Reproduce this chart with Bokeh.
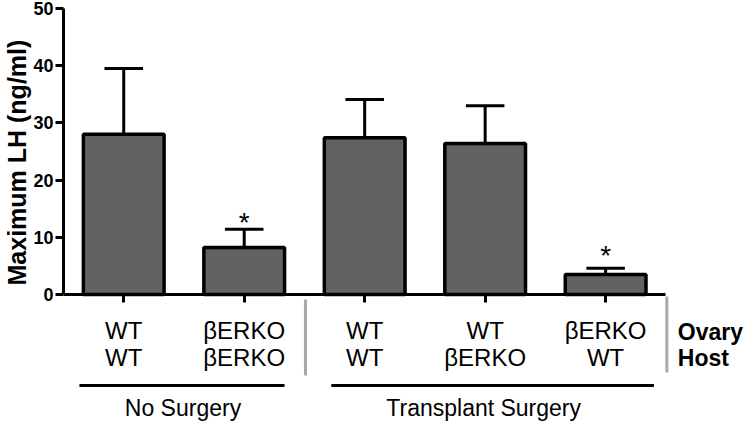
import numpy as np
from bokeh.plotting import figure
from bokeh.models import Range1d, FixedTicker, ColumnDataSource, Title
from bokeh.core.properties import value
from bokeh.embed import file_html
from bokeh.resources import INLINE

# ---------------- data ----------------
ovary = ["WT", "\u03b2ERKO", "WT", "WT", "\u03b2ERKO"]
host = ["WT", "\u03b2ERKO", "WT", "\u03b2ERKO", "WT"]
row_names = ["Ovary", "Host"]
groups = ["No Surgery", "Transplant Surgery"]
mean_lh = [28.0, 8.2, 27.4, 26.4, 3.5]
sem_lh = [11.5, 3.2, 6.7, 6.6, 1.1]
star_text = ["", "*", "", "", "*"]
star_y = [0.0, 13.5, 0.0, 0.0, 7.7]
y_ticks = [0, 10, 20, 30, 40, 50]
y_title = "Maximum LH (ng/ml)"

# ---------------- layout constants (pixels; canvas == page here) ----------------
FONT = value("Liberation Sans")
W, H = 747, 421
BL, BT = 60, 8
AXIS_X_PAGE, XEND_PAGE = 60, 665
Y0_PAGE, Y50_PAGE = 294, 8
UPX = (XEND_PAGE - AXIS_X_PAGE) / 5.0        # px per category
UPY = (Y0_PAGE - Y50_PAGE) / 50.0            # px per ng/ml


def dy(page_y):
    """pixel row -> data y"""
    return (Y0_PAGE - page_y) / UPY


def dx(page_x):
    """pixel column -> data x"""
    return -0.5 + (page_x - AXIS_X_PAGE) / UPX


x_end = 4.5 + (W - XEND_PAGE) / UPX
y_start = dy(H)

xs = np.arange(len(mean_lh), dtype=float)
tops = [m + s for m, s in zip(mean_lh, sem_lh)]

src = ColumnDataSource(dict(x=xs, mean=mean_lh, top=tops,
                            cap0=xs - 0.16, cap1=xs + 0.16,
                            star=star_text, star_y=star_y,
                            ovary=ovary, host=host))

p = figure(width=W, height=H, x_range=Range1d(-0.5, x_end), y_range=Range1d(y_start, 50),
           output_backend="svg", toolbar_location=None, x_axis_location="above",
           min_border_left=BL, min_border_right=0, min_border_top=BT, min_border_bottom=0)
p.grid.visible = False
p.outline_line_color = None
p.background_fill_color = None
p.border_fill_color = None

# error bars (upper only)
p.segment(x0="x", y0="mean", x1="x", y1="top", source=src, line_color="black", line_width=3)
p.segment(x0="cap0", y0="top", x1="cap1", y1="top", source=src, line_color="black", line_width=3)
# bars
p.vbar(x="x", top="mean", bottom=0, width=0.67, source=src,
       fill_color="#626262", line_color="black", line_width=3.5)
# significance stars
p.text(x="x", y="star_y", text="star", source=src, text_font=FONT, text_font_size="28px",
       text_align="center", text_baseline="middle", y_offset=5, text_color="black")

# y axis
ya = p.yaxis[0]
ya.ticker = FixedTicker(ticks=y_ticks)
ya.bounds = (0, 50)
ya.axis_line_width = 3
ya.major_tick_line_width = 3
ya.major_tick_out = 8
ya.major_tick_in = 0
ya.minor_tick_out = 0
ya.minor_tick_in = 0
ya.major_label_text_font = "Liberation Sans"
ya.major_label_text_font_size = "18px"
ya.major_label_text_font_style = "bold"
ya.major_label_text_color = "black"
ya.major_label_standoff = 2

# y title: starts (bottom end) at pixel row 285, i.e. offset from the frame bottom
p.add_layout(Title(text=y_title, align="left", offset=H - 285, standoff=0,
                   text_font="Liberation Sans", text_font_size="25px", text_font_style="bold",
                   text_color="black"), "left")

# x axis, pinned at y = 0, ticks pointing down
xa = p.xaxis[0]
xa.fixed_location = 0
xa.bounds = (-0.5, 4.5)
xa.ticker = FixedTicker(ticks=list(xs))
xa.axis_line_width = 3
xa.major_tick_line_width = 3
xa.major_tick_out = 0
xa.major_tick_in = 8
xa.minor_tick_out = 0
xa.minor_tick_in = 0
xa.major_label_overrides = {i: "" for i in range(5)}
xa.major_label_standoff = 0

# ---------------- category labels below ----------------
p.text(x="x", y=dy(330), text="ovary", source=src, text_font=FONT, text_font_size="24px",
       text_align="center", text_baseline="middle", text_color="black")
p.text(x="x", y=dy(357), text="host", source=src, text_font=FONT, text_font_size="24px",
       text_align="center", text_baseline="middle", text_color="black")
p.text(x=[dx(677)] * 2, y=[dy(331), dy(357)], text=row_names, text_font=FONT,
       text_font_size="23px", text_font_style="bold", text_align="left",
       text_baseline="middle", text_color="black")

# group underlines and labels
line_y = dy(385)
p.segment(x0=[dx(76), dx(329)], y0=[line_y] * 2, x1=[dx(282), dx(653)], y1=[line_y] * 2,
          line_color="black", line_width=3)
p.text(x=[dx(180), dx(482)], y=[dy(407)] * 2, text=groups, text_font=FONT,
       text_font_size="23px", text_align="center", text_baseline="middle", text_color="black")
# grey separators
p.segment(x0=[dx(303), dx(666)], y0=[dy(299), dy(296)], x1=[dx(303), dx(666)],
          y1=[dy(375), dy(372)], line_color="#a8a8a8", line_width=3)

open("out.html", "w").write(file_html(p, INLINE))
